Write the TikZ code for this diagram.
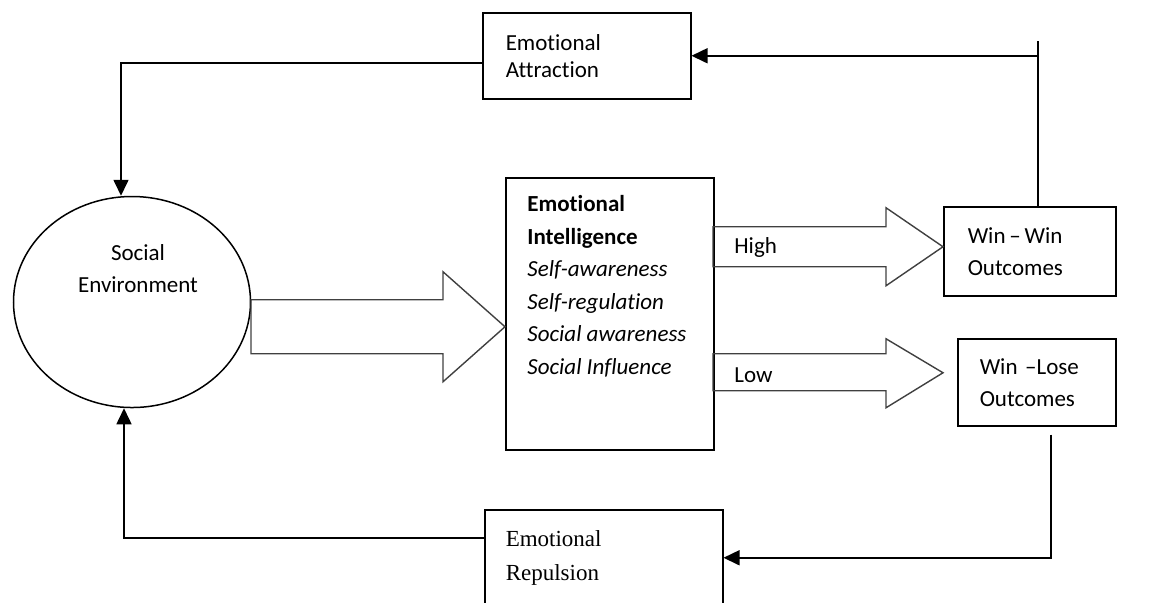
\documentclass[tikz,border=0pt]{standalone}
\usepackage{fontspec}
\setmainfont{Carlito}[Ligatures=NoCommon]
\newfontfamily\repfont{Liberation Serif}
\usetikzlibrary{arrows.meta,positioning,shapes.geometric}
\tikzset{
    %Define standard arrow tip
    >={Triangle[length=8pt,width=7.5pt]},
    %Define style for boxes
    rectbox/.style={
           rectangle,
           draw=black, line width=0.75pt,
           anchor=north west,
           inner ysep=0pt,
           align=left,
           font=\fontsize{11.5}{16}\selectfont},
    oval/.style={
           ellipse,
           draw=black, line width=0.75pt,
           minimum width=118.5pt,
           minimum height=105.5pt,
           inner sep=0pt},
    % Define arrow style
    pil/.style={
           ->,
           line width=0.8pt},
    fat/.style={
           draw=black!75,
           line width=0.7pt,
           line join=miter}
}
\begin{document}
\begin{tikzpicture}[x=0.5pt,y=-0.5pt,font=\fontsize{11.5}{16}\selectfont]
\useasboundingbox (0,0) rectangle (1170,602);
\node[oval](se) at (132,302) {};
\node[align=center, inner sep=0pt](setext) at (138,269) {Social\\Environment};
\node[rectbox, inner xsep=11.5pt, text width=81pt, minimum height=43pt, font=\fontsize{11.5}{13.5}\selectfont](ea) at (482,12) {Emotional\\Attraction};
\node[rectbox, minimum width=104pt, minimum height=136pt](ei) at (505,177) {};
\node[anchor=north west, inner sep=0pt, align=left, font=\fontsize{11.5}{16.25}\selectfont](eitext) at ([xshift=11pt,yshift=-9pt]ei.north west)
    {\textbf{Emotional}\\\textbf{Intelligence}\\\textit{Self-awareness}\\\textit{Self-regulation}\\\textit{Social awareness}\\\textit{Social Influence}};
\node[rectbox, inner xsep=12pt, text width=62pt, minimum height=44.5pt](ww) at (943,206) {Win\,–\,Win\\Outcomes};
\node[rectbox, inner xsep=11pt, text width=57pt, minimum height=43.5pt](wl) at (957,338) {Win –Lose\\Outcomes};
\node[rectbox, inner xsep=10.5pt, text width=98pt, minimum height=48pt, font=\repfont\fontsize{11.5}{17}\selectfont](er) at (484,509) {Emotional\\Repulsion};
\node[anchor=west, inner sep=0pt](hi) at (734,247) {High};
\node[anchor=west, inner sep=0pt](lo) at (734,375) {Low};
% block arrows
\draw[fat] ([yshift=-6.5pt]ei.west) -- ++(-62,-55) -- ++(0,28) -- ++(-192,0) -- ++(0,54) -- ++(192,0) -- ++(0,28) -- cycle;
\draw[fat] ([yshift=2.25pt]ww.west) -- ++(-57,-39) -- ++(0,19) -- ++(-173,0) -- ++(0,40) -- ++(173,0) -- ++(0,19) -- cycle;
\draw[fat] ([xshift=-7pt,yshift=4.75pt]wl.west) -- ++(-57,-34) -- ++(0,15) -- ++(-173,0) -- ++(0,37) -- ++(173,0) -- ++(0,17) -- cycle;
% feedback loops
\draw[pil] ([yshift=-3.5pt]ea.west) -| ([xshift=-5.5pt]se.north);
\draw[line width=0.8pt] ([xshift=4pt]ww.north) coordinate(wwtop) -- ++(0,-165);
\draw[pil] (wwtop |- ea.east) -- (ea.east);
\draw[pil] ([xshift=7pt,yshift=-4pt]wl.south) |- (er.east);
\draw[pil] ([yshift=10pt]er.west) -| ([xshift=-4pt]se.south);
\end{tikzpicture}
\end{document}
